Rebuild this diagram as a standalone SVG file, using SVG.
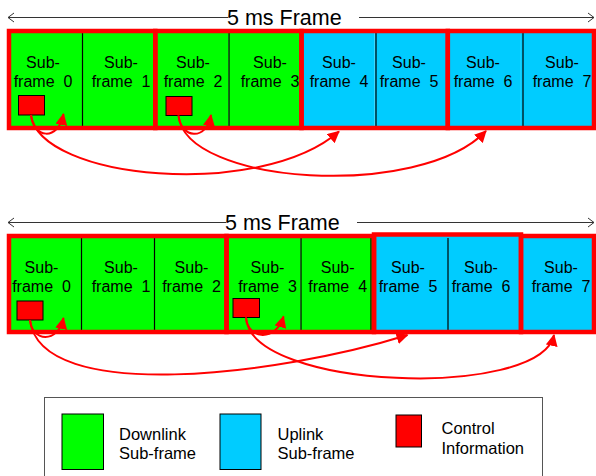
<svg xmlns="http://www.w3.org/2000/svg" width="596" height="476" viewBox="0 0 596 476">
  <style>
    .dl { fill: #00ff00; }
    .ul { fill: #00ccff; }
    .grp { fill: none; stroke: #ff0000; stroke-width: 4.5; }
    .div { stroke: #000; stroke-width: 1.2; }
    .lbl { font-family: "Liberation Sans", Arial, sans-serif; font-size: 16px; fill: #000; text-anchor: middle; }
    .title { font-family: "Liberation Sans", Arial, sans-serif; font-size: 21.5px; fill: #000; }
    .leg { font-family: "Liberation Sans", Arial, sans-serif; font-size: 16.5px; fill: #000; }
    .ctl { fill: #ff0000; stroke: #000; stroke-width: 1; }
    .dim { fill: none; stroke: #333; stroke-width: 1; }
    .conn { fill: none; stroke: #ff0000; stroke-width: 2; marker-end: url(#ah); }
  </style>
  <defs>
    <marker id="ah" markerUnits="userSpaceOnUse" markerWidth="13" markerHeight="12" refX="11" refY="6" orient="auto">
      <path d="M0,0 L12,6 L0,12 Z" fill="#ff0000"/>
    </marker>
  </defs>
  <rect width="596" height="476" fill="#fff"/>

  <!-- ===== Upper frame: DL DL DL DL UL UL UL UL ===== -->
  <g id="frame-a-title">
    <line class="dim" x1="8" y1="17.5" x2="228" y2="17.5"/>
    <polyline class="dim" points="14,13 8,17.5 14,22"/>
    <line class="dim" x1="359" y1="17.5" x2="594" y2="17.5"/>
    <polyline class="dim" points="588,13 594,17.5 588,22"/>
    <text class="title" x="227" y="24.5">5 ms Frame</text>
  </g>
  <g id="a-sf0"><rect class="dl" x="9" y="31" width="73.1" height="97"/><text class="lbl" x="43" y="68">Sub-</text><text class="lbl" x="43" y="87" xml:space="preserve">frame  0</text></g>
  <g id="a-sf1"><rect class="dl" x="82.1" y="31" width="73.2" height="97"/><text class="lbl" x="121" y="68">Sub-</text><text class="lbl" x="121" y="87" xml:space="preserve">frame  1</text></g>
  <g id="a-sf2"><rect class="dl" x="155.3" y="31" width="73.1" height="97"/><text class="lbl" x="193" y="68">Sub-</text><text class="lbl" x="193" y="87" xml:space="preserve">frame  2</text></g>
  <g id="a-sf3"><rect class="dl" x="228.4" y="31" width="73.1" height="97"/><text class="lbl" x="270" y="68">Sub-</text><text class="lbl" x="270" y="87" xml:space="preserve">frame  3</text></g>
  <g id="a-sf4"><rect class="ul" x="301.5" y="31" width="73.1" height="97"/><text class="lbl" x="339" y="68">Sub-</text><text class="lbl" x="339" y="87" xml:space="preserve">frame  4</text></g>
  <g id="a-sf5"><rect class="ul" x="374.6" y="31" width="73.2" height="97"/><text class="lbl" x="409" y="68">Sub-</text><text class="lbl" x="409" y="87" xml:space="preserve">frame  5</text></g>
  <g id="a-sf6"><rect class="ul" x="447.8" y="31" width="73.1" height="97"/><text class="lbl" x="483" y="68">Sub-</text><text class="lbl" x="483" y="87" xml:space="preserve">frame  6</text></g>
  <g id="a-sf7"><rect class="ul" x="520.9" y="31" width="73.1" height="97"/><text class="lbl" x="562" y="68">Sub-</text><text class="lbl" x="562" y="87" xml:space="preserve">frame  7</text></g>
  <g id="a-dividers">
    <line class="div" x1="82.5" y1="33" x2="82.5" y2="126"/>
    <line class="div" x1="229" y1="33" x2="229" y2="126"/>
    <line class="div" x1="376" y1="33" x2="376" y2="126"/>
    <line class="div" x1="523" y1="33" x2="523" y2="126"/>
  </g>
  <g id="a-groups">
    <rect class="grp" x="9" y="31" width="146.3" height="97"/>
    <rect class="grp" x="155.3" y="31" width="146.2" height="97"/>
    <rect class="grp" x="301.5" y="31" width="146.3" height="97"/>
    <rect class="grp" x="447.8" y="31" width="146.2" height="97"/>
  </g>
  <g id="a-ctl0"><rect class="ctl" x="18.5" y="95.5" width="26" height="19.5"/></g>
  <g id="a-ctl2"><rect class="ctl" x="166" y="96.5" width="26" height="19"/></g>

  <!-- ===== Lower frame: DL DL DL DL DL UL UL UL ===== -->
  <g id="frame-b-title">
    <line class="dim" x1="8" y1="222.5" x2="226" y2="222.5"/>
    <polyline class="dim" points="14,218 8,222.5 14,227"/>
    <line class="dim" x1="357" y1="222.5" x2="594" y2="222.5"/>
    <polyline class="dim" points="588,218 594,222.5 588,227"/>
    <text class="title" x="225" y="229.5">5 ms Frame</text>
  </g>
  <g id="b-sf0"><rect class="dl" x="9" y="236" width="73" height="96"/><text class="lbl" x="41.5" y="273">Sub-</text><text class="lbl" x="41.5" y="292" xml:space="preserve">frame  0</text></g>
  <g id="b-sf1"><rect class="dl" x="81.5" y="236" width="73" height="96"/><text class="lbl" x="121" y="273">Sub-</text><text class="lbl" x="121" y="292" xml:space="preserve">frame  1</text></g>
  <g id="b-sf2"><rect class="dl" x="154" y="236" width="73" height="96"/><text class="lbl" x="191.5" y="273">Sub-</text><text class="lbl" x="191.5" y="292" xml:space="preserve">frame  2</text></g>
  <g id="b-sf3"><rect class="dl" x="226.5" y="236" width="74" height="96"/><text class="lbl" x="267.5" y="273">Sub-</text><text class="lbl" x="267.5" y="292" xml:space="preserve">frame  3</text></g>
  <g id="b-sf4"><rect class="dl" x="300.5" y="236" width="73.5" height="96"/><rect x="301" y="235" width="70" height="98" fill="none" stroke="#000" stroke-width="1.2"/><text class="lbl" x="337.7" y="273">Sub-</text><text class="lbl" x="337.7" y="292" xml:space="preserve">frame  4</text></g>
  <g id="b-sf5"><rect class="ul" x="374" y="236" width="74" height="96"/><text class="lbl" x="408" y="273">Sub-</text><text class="lbl" x="408" y="292" xml:space="preserve">frame  5</text></g>
  <g id="b-sf6"><rect class="ul" x="447.5" y="236" width="74" height="96"/><text class="lbl" x="481" y="273">Sub-</text><text class="lbl" x="481" y="292" xml:space="preserve">frame  6</text></g>
  <g id="b-sf7"><rect class="ul" x="521" y="236" width="73" height="96"/><text class="lbl" x="561" y="273">Sub-</text><text class="lbl" x="561" y="292" xml:space="preserve">frame  7</text></g>
  <g id="b-dividers">
    <line class="div" x1="81.5" y1="238" x2="81.5" y2="330"/>
    <line class="div" x1="154.5" y1="238" x2="154.5" y2="330"/>
    <line class="div" x1="448" y1="238" x2="448" y2="330"/>
  </g>
  <g id="b-groups">
    <rect class="grp" x="9" y="236" width="217.5" height="96"/>
    <rect class="grp" x="226.5" y="236" width="147.5" height="96"/>
    <rect class="grp" x="374" y="234.5" width="147" height="97.5"/>
    <rect class="grp" x="521" y="236" width="73" height="96"/>
  </g>
  <g id="b-ctl0"><rect class="ctl" x="17" y="301" width="26" height="19"/></g>
  <g id="b-ctl3"><rect class="ctl" x="233" y="298.5" width="26.5" height="19"/></g>

  <!-- ===== Connectors: control info to its target sub-frames ===== -->
  <g id="connectors">
    <path class="conn" d="M31 115 C33 138, 58 142, 63.5 114"/>
    <path class="conn" d="M31 115 C40 180, 260 200, 339 131.5"/>
    <path class="conn" d="M178.5 115.5 C181 138, 206 142, 211 115"/>
    <path class="conn" d="M178.5 115.5 C185 185, 420 200, 486 131"/>

    <path class="conn" d="M30 320 C32 342, 58 344, 63.5 318"/>
    <path class="conn" d="M30 320 C40 405, 280 375, 407.5 335"/>
    <path class="conn" d="M246 317.5 C248 340, 276 342, 283.5 316.5"/>
    <path class="conn" d="M246 317.5 C250 390, 540 400, 554 335"/>
  </g>

  <!-- ===== Legend ===== -->
  <g id="legend">
    <rect x="44.5" y="397.5" width="498" height="90" fill="none" stroke="#555" stroke-width="1"/>
    <g id="legend-dl">
      <rect x="62" y="414" width="41.5" height="55.5" fill="#00ff00" stroke="#000" stroke-width="1"/>
      <text class="leg" x="119" y="440">Downlink</text>
      <text class="leg" x="119" y="459">Sub-frame</text>
    </g>
    <g id="legend-ul">
      <rect x="220" y="414" width="41" height="55.5" fill="#00ccff" stroke="#000" stroke-width="1"/>
      <text class="leg" x="277.5" y="440">Uplink</text>
      <text class="leg" x="277.5" y="459">Sub-frame</text>
    </g>
    <g id="legend-ctl">
      <rect x="396" y="415" width="25.5" height="32" fill="#ff0000" stroke="#000" stroke-width="1"/>
      <text class="leg" x="441.5" y="434">Control</text>
      <text class="leg" x="441.5" y="454">Information</text>
    </g>
  </g>
</svg>
